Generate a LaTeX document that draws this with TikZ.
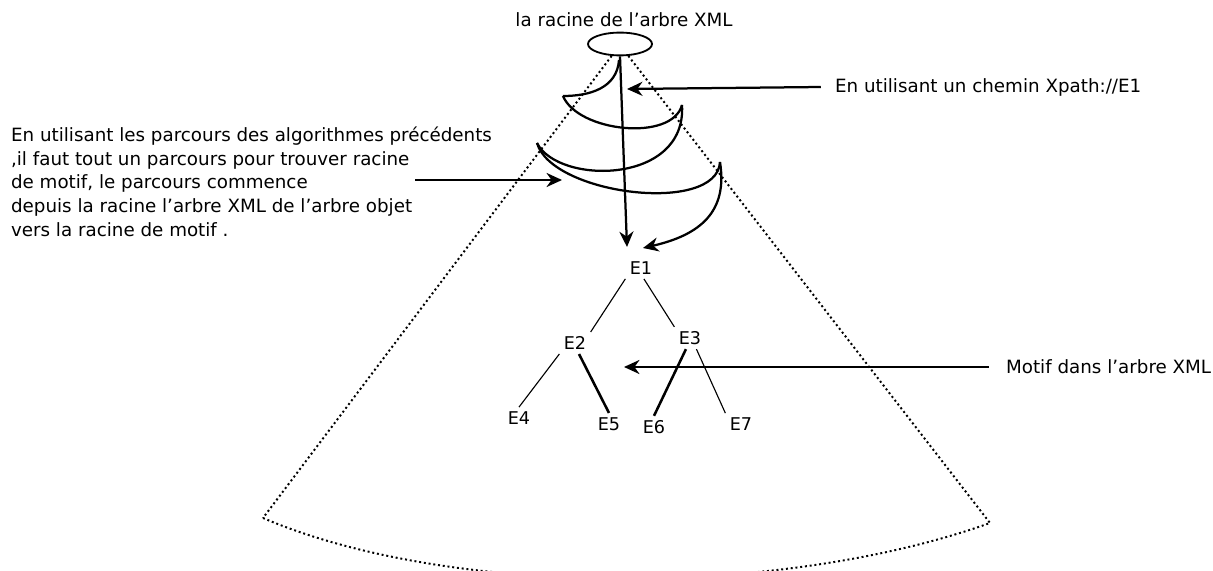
\documentclass[tikz,border=0pt]{standalone}
\usepackage{fontspec}
\setmainfont{DejaVu Sans}
\usetikzlibrary{arrows.meta,shapes.geometric}

\tikzset{
  lbl/.style={font=\fontsize{13}{16.8}\selectfont,inner sep=2pt},
  elt/.style={font=\fontsize{12.5}{14}\selectfont,inner sep=3pt},
  cone/.style={dotted,line width=1.4pt},
  spire/.style={line width=1.6pt},
  fleche/.style={line width=1.6pt,-{Stealth[length=11pt,width=10pt]}},
  branche/.style={line width=0.8pt},
  gras/.style={line width=1.8pt}
}

\begin{document}
\begin{tikzpicture}[x=0.025cm,y=-0.025cm]
  \useasboundingbox (0,0) rectangle (1213,571);
  \clip (0,0) rectangle (1213,571);

  % racine et cone
  \node[lbl] (titre) at (624,20) {la racine de l'arbre XML};
  \node[draw,line width=1.3pt,ellipse,minimum width=1.6cm,minimum height=0.57cm] (racine) at (620,44) {};
  \coordinate (bl) at (263,518);
  \coordinate (br) at (990,523);
  \draw[cone] (racine.235) -- (bl);
  \draw[cone] (racine.305) -- (br);
  \draw[cone] (bl) .. controls (450,598) and (780,598) .. (br);

  % parcours en spirale
  \coordinate (s0) at (619,60);
  \coordinate (s1) at (563,96);
  \coordinate (s2) at (682,105);
  \coordinate (s3) at (537,143);
  \coordinate (s4) at (720,162);
  \coordinate (s5) at (643,248);
  \draw[spire] (s0) .. controls (617,88) and (590,96) .. (s1);
  \draw[spire] (s1) .. controls (578,132) and (672,142) .. (s2);
  \draw[spire] (s2) .. controls (687,185) and (558,185) .. (s3);
  \draw[spire] (s3) .. controls (552,195) and (717,215) .. (s4);
  \draw[fleche] (s4) .. controls (728,212) and (700,235) .. (s5);

  % chemin direct
  \coordinate (t1) at (627,247);
  \draw[fleche] (racine.south) -- (t1);

  % arbre du motif
  \node[elt] (e1) at (641,268) {E1};
  \node[elt] (e2) at (575,343) {E2};
  \node[elt] (e3) at (690,338) {E3};
  \node[elt] (e4) at (519,418) {E4};
  \node[elt] (e5) at (609,424) {E5};
  \node[elt] (e6) at (654,427) {E6};
  \node[elt] (e7) at (741,424) {E7};
  \draw[branche] (e1.south west) -- (e2.north east);
  \draw[branche] (e1.-75) -- (e3.north west);
  \draw[branche] (e2.south west) -- (e4.north);
  \draw[gras] (e2.-70) -- (e5.north);
  \draw[gras] (e3.-110) -- (e6.north);
  \draw[branche] (e3.-60) -- (e7.north west);

  % annotations
  \node[lbl,anchor=west] (xpath) at (832,87) {En utilisant un chemin Xpath://E1};
  \coordinate (t2) at (627,89);
  \draw[fleche] ([xshift=-8pt]xpath.west) -- (t2);

  \node[lbl,anchor=north west,align=left] (algo) at (8,124)
    {En utilisant les parcours des algorithmes précédents\\
     ,il faut tout un parcours pour trouver racine\\
     de motif, le parcours commence\\
     depuis la racine l’arbre XML de l’arbre objet\\
     vers la racine de motif .};
  \coordinate (a1) at (415,180);
  \coordinate (t3) at (562,180);
  \draw[fleche] (a1) -- (t3);

  \node[lbl,anchor=west] (motif) at (1003,367) {Motif dans l’arbre XML};
  \coordinate (t4) at (624,367);
  \draw[fleche] ([xshift=-10pt]motif.west) -- (t4);
\end{tikzpicture}
\end{document}
